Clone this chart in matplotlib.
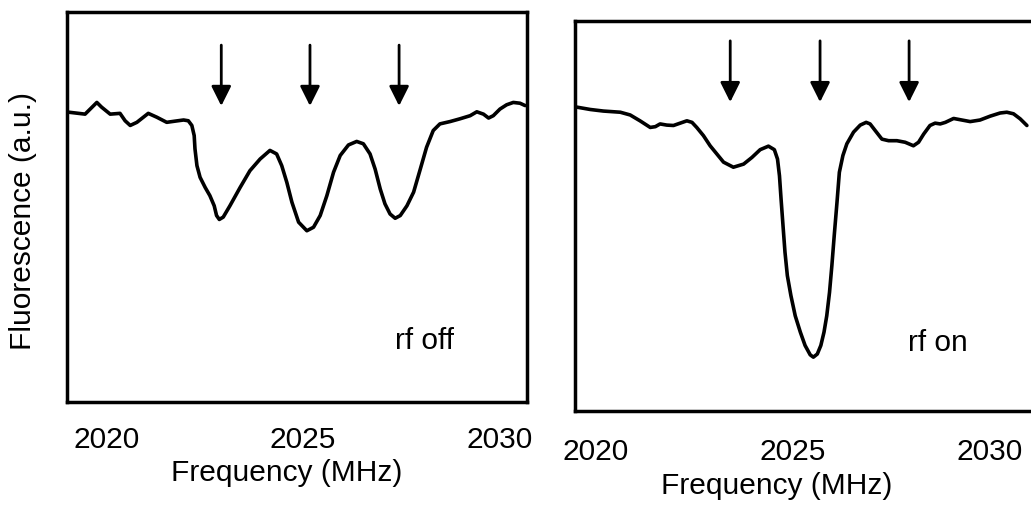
import matplotlib

matplotlib.use("Agg")

import matplotlib.pyplot as plt  # noqa: E402

plt.rcParams["font.family"] = ["Liberation Sans", "DejaVu Sans"]

# rf off: frequency (MHz) and fluorescence (a.u.)
off_freq = [2019.03, 2019.20, 2019.45, 2019.58, 2019.75, 2019.87, 2020.09, 2020.34,
            2020.47, 2020.60, 2020.77, 2021.06, 2021.28, 2021.53, 2021.74, 2021.96,
            2022.08, 2022.17, 2022.23, 2022.25, 2022.30, 2022.38, 2022.51, 2022.63,
            2022.74, 2022.80, 2022.87, 2022.97, 2023.14, 2023.40, 2023.65, 2023.91,
            2024.16, 2024.33, 2024.46, 2024.59, 2024.72, 2024.89, 2025.10, 2025.27,
            2025.44, 2025.61, 2025.78, 2025.95, 2026.16, 2026.37, 2026.54, 2026.71,
            2026.84, 2026.97, 2027.09, 2027.22, 2027.35, 2027.48, 2027.65, 2027.82,
            2027.99, 2028.15, 2028.32, 2028.49, 2028.75, 2029.00, 2029.26, 2029.43,
            2029.60, 2029.73, 2029.85, 2030.02, 2030.19, 2030.36, 2030.53, 2030.66]
off_fluo = [7.43, 7.41, 7.38, 7.51, 7.68, 7.56, 7.38, 7.40,
            7.21, 7.09, 7.17, 7.40, 7.30, 7.17, 7.20, 7.23,
            7.21, 7.09, 6.83, 6.49, 6.06, 5.76, 5.50, 5.29,
            5.03, 4.78, 4.68, 4.74, 5.03, 5.50, 5.93, 6.23,
            6.45, 6.36, 6.06, 5.63, 5.12, 4.61, 4.39, 4.48,
            4.78, 5.29, 5.89, 6.32, 6.59, 6.68, 6.62, 6.36,
            5.97, 5.46, 5.08, 4.82, 4.71, 4.78, 5.03, 5.38,
            5.97, 6.53, 6.96, 7.13, 7.19, 7.26, 7.34, 7.44,
            7.38, 7.28, 7.34, 7.51, 7.62, 7.68, 7.66, 7.60]

# rf on
on_freq = [2019.53, 2019.87, 2020.20, 2020.63, 2020.88, 2021.13, 2021.39, 2021.52,
           2021.64, 2021.81, 2021.98, 2022.15, 2022.32, 2022.45, 2022.57, 2022.74,
           2022.91, 2023.08, 2023.25, 2023.50, 2023.76, 2023.97, 2024.18, 2024.39,
           2024.54, 2024.62, 2024.67, 2024.71, 2024.76, 2024.81, 2024.87, 2024.96,
           2025.07, 2025.20, 2025.32, 2025.45, 2025.53, 2025.63, 2025.72, 2025.80,
           2025.87, 2025.94, 2026.00, 2026.06, 2026.13, 2026.19, 2026.28, 2026.38,
           2026.55, 2026.72, 2026.87, 2026.97, 2027.10, 2027.27, 2027.44, 2027.65,
           2027.86, 2028.07, 2028.20, 2028.33, 2028.49, 2028.62, 2028.75, 2028.88,
           2029.09, 2029.30, 2029.51, 2029.76, 2030.02, 2030.27, 2030.44, 2030.61,
           2030.78, 2030.95]
on_fluo = [7.79, 7.73, 7.69, 7.66, 7.59, 7.44, 7.27, 7.29,
           7.36, 7.33, 7.32, 7.38, 7.44, 7.40, 7.27, 7.06,
           6.80, 6.59, 6.38, 6.25, 6.33, 6.50, 6.70, 6.79,
           6.70, 6.46, 6.03, 5.44, 4.75, 4.07, 3.47, 2.96,
           2.44, 2.02, 1.68, 1.44, 1.38, 1.46, 1.68, 2.02,
           2.44, 3.04, 3.73, 4.50, 5.35, 6.12, 6.55, 6.85,
           7.15, 7.33, 7.40, 7.36, 7.19, 6.97, 6.93, 6.93,
           6.89, 6.80, 6.89, 7.10, 7.32, 7.38, 7.36, 7.40,
           7.50, 7.46, 7.42, 7.46, 7.56, 7.64, 7.66, 7.62,
           7.49, 7.32]

off_arrows = [2022.92, 2025.18, 2027.45]
on_arrows = [2023.42, 2025.70, 2027.96]
ticks = [2020, 2025, 2030]

FS = 21.5
LW_BOX = 2.5
LW_LINE = 2.6

fig = plt.figure(figsize=(10.31, 5.06), dpi=100)
ax1 = fig.add_axes([0.0650, 0.2036, 0.4462, 0.7708])
ax2 = fig.add_axes([0.5577, 0.1858, 0.4559, 0.7708])


def style(ax, xlim, arrows, tip, top, pad):
    ax.set_xlim(*xlim)
    ax.set_ylim(0, 10)
    ax.set_yticks([])
    ax.set_xticks(ticks)
    ax.tick_params(axis="x", length=0, pad=pad, labelsize=FS)
    for s in ax.spines.values():
        s.set_linewidth(LW_BOX)
    for f in arrows:
        ax.annotate("", xy=(f, tip), xytext=(f, top),
                    arrowprops=dict(arrowstyle="-|>,head_length=0.6,head_width=0.3",
                                    mutation_scale=20, color="black", lw=2.0,
                                    shrinkA=0, shrinkB=0))


ax1.plot(off_freq, off_fluo, color="black", lw=LW_LINE,
         solid_joinstyle="round", solid_capstyle="round")
style(ax1, (2018.99, 2030.71), off_arrows, 7.59, 9.15, 16.5)
ax1.text(2027.35, 1.59, "rf off", fontsize=FS, ha="left", va="center")
ax1.set_xlabel("Frequency (MHz)", fontsize=FS)
ax1.xaxis.set_label_coords(0.478, -0.179)
ax1.xaxis.label.set_va("center")
ax1.set_ylabel("Fluorescence (a.u.)", fontsize=FS)
ax1.yaxis.set_label_coords(-0.0957, 0.467)
ax1.yaxis.label.set_va("center")

ax2.plot(on_freq, on_fluo, color="black", lw=LW_LINE,
         solid_joinstyle="round", solid_capstyle="round")
style(ax2, (2019.48, 2031.41), on_arrows, 7.92, 9.49, 18.7)
ax2.text(2027.94, 1.77, "rf on", fontsize=FS, ha="left", va="center")
ax2.set_xlabel("Frequency (MHz)", fontsize=FS)
ax2.xaxis.set_label_coords(0.43, -0.19)
ax2.xaxis.label.set_va("center")

fig.savefig("out.png", dpi=100)
plt.close(fig)
